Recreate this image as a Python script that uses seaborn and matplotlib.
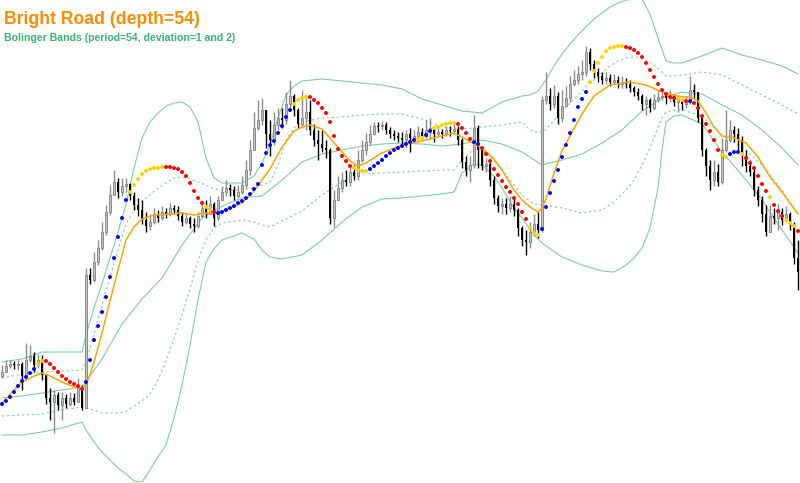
import numpy as np
import pandas as pd
import matplotlib
matplotlib.use("Agg")
import matplotlib.pyplot as plt
import seaborn as sns

# price levels in chart points (bigger number = lower on the chart, y axis is inverted)
close = [372, 366, 364, 365, 364, 376, 360, 356, 365, 360,
         375, 398, 402, 395, 405, 398, 404, 398, 402, 388,
         408, 275, 280, 262, 248, 232, 212, 195, 182, 192,
         186, 184, 196, 205, 210, 220, 226, 222, 214, 218,
         212, 214, 208, 210, 216, 222, 218, 224, 226, 216,
         208, 214, 204, 218, 200, 192, 188, 190, 196, 192,
         185, 170, 150, 128, 120, 110, 134, 140, 125, 118,
         120, 104, 96, 110, 124, 118, 112, 130, 140, 144,
         148, 150, 218, 200, 188, 180, 182, 172, 176, 160,
         150, 142, 134, 126, 126, 125, 130, 134, 136, 138,
         140, 134, 138, 136, 132, 136, 130, 128, 134, 132,
         134, 130, 131, 129, 140, 162, 170, 165, 128, 150,
         166, 164, 180, 198, 206, 204, 208, 204, 210, 228,
         240, 242, 232, 224, 230, 100, 96, 104, 96, 118,
         106, 98, 84, 80, 74, 72, 52, 64, 72, 76,
         80, 78, 82, 80, 84, 82, 84, 88, 92, 96,
         104, 100, 108, 100, 97, 96, 98, 96, 102, 100,
         104, 102, 90, 92, 118, 150, 166, 180, 172, 182,
         150, 140, 130, 134, 140, 156, 166, 172, 190, 200,
         214, 232, 216, 218, 212, 220, 214, 224, 258, 272]

high = [365, 360, 360, 361, 360, 362, 343, 345, 352, 354,
        355, 374, 388, 390, 392, 392, 394, 392, 393, 378,
        385, 268, 268, 252, 240, 222, 205, 185, 170, 178,
        178, 178, 183, 192, 198, 200, 212, 214, 208, 210,
        206, 208, 203, 205, 206, 212, 214, 216, 218, 212,
        200, 200, 196, 202, 196, 186, 180, 184, 186, 185,
        176, 160, 140, 112, 100, 98, 110, 120, 112, 108,
        108, 92, 80, 94, 108, 90, 96, 100, 124, 130,
        130, 140, 148, 190, 176, 172, 170, 166, 165, 150,
        140, 133, 125, 122, 122, 121, 122, 127, 130, 132,
        132, 130, 128, 130, 126, 128, 120, 118, 126, 128,
        129, 126, 126, 124, 126, 138, 156, 156, 115, 125,
        158, 158, 162, 176, 195, 198, 198, 196, 198, 208,
        226, 230, 222, 214, 212, 96, 72, 88, 85, 92,
        90, 86, 76, 70, 66, 60, 46, 48, 60, 68,
        72, 72, 74, 74, 76, 76, 78, 80, 86, 88,
        94, 96, 98, 94, 90, 90, 92, 90, 94, 95,
        98, 96, 76, 84, 92, 118, 148, 160, 160, 164,
        138, 110, 120, 126, 128, 136, 150, 160, 168, 186,
        196, 205, 205, 208, 204, 208, 206, 212, 222, 240]

low = [378, 372, 368, 369, 370, 390, 378, 362, 372, 368,
       380, 404, 420, 433, 410, 420, 408, 406, 405, 402,
       410, 408, 284, 282, 265, 250, 235, 215, 195, 198,
       196, 192, 200, 210, 216, 224, 232, 230, 224, 222,
       220, 218, 216, 214, 220, 226, 224, 228, 232, 228,
       218, 218, 214, 226, 220, 200, 196, 196, 200, 198,
       194, 188, 175, 150, 130, 125, 148, 156, 145, 130,
       128, 124, 110, 116, 128, 128, 130, 135, 146, 160,
       152, 158, 224, 227, 196, 192, 186, 186, 180, 180,
       162, 155, 145, 135, 132, 130, 134, 138, 140, 142,
       145, 148, 152, 142, 140, 140, 138, 138, 142, 136,
       138, 136, 136, 134, 145, 168, 176, 182, 168, 168,
       170, 172, 186, 204, 212, 214, 214, 212, 216, 236,
       246, 255, 248, 236, 238, 232, 104, 110, 108, 124,
       122, 106, 102, 86, 84, 80, 76, 70, 78, 82,
       84, 84, 86, 84, 88, 88, 88, 92, 96, 100,
       110, 115, 112, 110, 102, 100, 104, 102, 106, 112,
       110, 108, 104, 98, 122, 156, 176, 190, 186, 186,
       184, 152, 142, 142, 150, 166, 172, 176, 196, 206,
       222, 236, 226, 224, 230, 225, 222, 230, 264, 290]

# Bright Road line, one value per bar
road = [404, 401, 397, 392, 386, 381, 377, 373, 369, 364,
        361, 361, 364, 368, 372, 376, 379, 382, 384, 386,
        389, 382, 360, 340, 326, 312, 297, 277, 258, 237,
        218, 200, 192, 185, 179, 174, 171, 169, 168, 168,
        167, 167, 167, 168, 169, 172, 176, 183, 191, 198,
        203, 207, 209, 212, 213, 212, 210, 208, 206, 203,
        201, 198, 194, 189, 184, 165, 153, 145, 141, 133,
        126, 117, 110, 104, 100, 98, 97, 97, 100, 103,
        108, 113, 122, 136, 149, 156, 161, 166, 168, 170,
        171, 171, 169, 166, 163, 160, 156, 153, 150, 148,
        146, 144, 142, 140, 139, 138, 135, 131, 128, 127,
        125, 124, 123, 123, 124, 128, 133, 139, 142, 144,
        148, 154, 161, 169, 175, 181, 187, 192, 198, 204,
        212, 219, 228, 233, 235, 229, 207, 193, 181, 170,
        157, 145, 133, 120, 107, 99, 92, 82, 71, 63,
        57, 51, 48, 47, 46, 46, 47, 48, 50, 53,
        57, 63, 70, 77, 84, 90, 94, 97, 98, 99,
        100, 101, 101, 103, 108, 116, 124, 131, 140, 150,
        155, 157, 154, 152, 152, 154, 158, 163, 168, 176,
        184, 191, 197, 205, 211, 216, 220, 223, 226, 231]

# trend state of the Bright Road dots, as runs of (state, bars)
road_runs = [("up", 9), ("flat", 2), ("down", 10), ("up", 11), ("flat", 9),
             ("down", 10), ("flat", 2), ("down", 1), ("up", 19), ("flat", 4),
             ("down", 11), ("flat", 4), ("up", 12), ("flat", 2), ("up", 2),
             ("flat", 6), ("down", 4), ("up", 2), ("down", 12), ("flat", 3),
             ("up", 12), ("flat", 9), ("down", 13), ("flat", 2), ("down", 1),
             ("up", 1), ("down", 7), ("flat", 2), ("up", 3), ("flat", 1),
             ("down", 6), ("flat", 1), ("down", 3), ("flat", 3), ("down", 1)]

# orange smoothed line, read at these bars
orange_bars = [0, 3, 5, 8, 10, 12, 15, 18, 20, 21, 22, 23, 25, 27, 29, 31, 33, 35, 38, 42,
               45, 48, 51, 54, 57, 60, 63, 65, 67, 70, 73, 75, 77, 80, 82, 85, 87, 89, 91, 95,
               100, 105, 110, 113, 115, 118, 120, 123, 125, 128, 130, 132, 134, 135, 136,
               138, 140, 142, 145, 148, 152, 157, 161, 165, 170, 172, 174, 176, 178, 180,
               183, 186, 189, 192, 195, 199]
orange_line = [403, 390, 382, 376, 373, 376, 382, 387, 388, 385, 375, 362, 333, 301, 270,
               240, 227, 219, 215, 214, 213, 215, 213, 213, 208, 203, 191, 180, 169, 147,
               131, 127, 125, 129, 138, 152, 161, 166, 163, 153, 145, 141, 136, 133, 137,
               144, 148, 159, 170, 190, 200, 207, 212, 208, 199, 173, 151, 136, 114, 96,
               85, 82, 85, 92, 97, 97, 101, 113, 127, 136, 138, 143, 157, 177, 192, 214]

# Bollinger bands (54, 1 and 2 deviations)
upper_bars = [0, 5, 10, 15, 20, 21, 23, 25, 27, 29, 31, 33, 35, 37, 39, 41, 43, 45, 47, 49,
              51, 53, 55, 60, 63, 65, 67, 69, 71, 73, 75, 80, 85, 90, 95, 100, 105, 110,
              115, 120, 125, 130, 132, 134, 136, 138, 140, 142, 144, 146, 148, 150, 152,
              154, 156, 158, 160, 162, 164, 166, 168, 170, 175, 180, 185, 190, 195, 199]
band_upper2 = [362, 359, 352, 352, 352, 335, 308, 284, 258, 232, 204, 168, 138, 122, 113,
               106, 103, 102, 107, 122, 158, 178, 183, 183, 176, 163, 145, 118, 95, 86, 81,
               79, 81, 83, 85, 89, 99, 105, 111, 113, 102, 96, 95, 91, 80, 66, 54, 44, 35,
               27, 19, 13, 7, 3, 0, -1, -1, 14, 38, 61, 63, 63, 56, 48, 55, 60, 66, 74]
band_upper1 = [378, 374, 372, 371, 370, 362, 334, 305, 277, 250, 224, 210, 201, 195, 188,
               183, 178, 177, 179, 182, 185, 189, 190, 190, 188, 185, 182, 165, 140, 128,
               122, 118, 117, 115, 114, 114, 119, 127, 129, 127, 125, 122, 130, 133, 130,
               120, 111, 103, 95, 87, 80, 73, 66, 61, 58, 57, 58, 62, 68, 76, 76, 75, 72,
               75, 85, 95, 105, 114]
middle_bars = list(range(0, 200, 5)) + [199]
band_middle = [398, 396, 393, 390, 387, 359, 324, 299, 278, 245,
               218, 206, 198, 196, 180, 162, 154, 150, 146, 144,
               143, 144, 146, 144, 140, 144, 152, 165, 160, 154,
               143, 130, 111, 98, 92, 94, 105, 115, 130, 148, 165]
lower_bars = [0, 5, 10, 15, 20, 21, 23, 25, 27, 29, 31, 33, 35, 37, 39, 41, 43, 45, 47, 49,
              51, 53, 55, 60, 63, 65, 67, 70, 75, 80, 85, 90, 95, 100, 105, 110, 113, 115,
              118, 120, 123, 125, 128, 130, 133, 135, 140, 145, 150, 153, 156, 158, 160,
              162, 164, 165, 166, 168, 170, 175, 180, 185, 190, 195, 199]
band_lower1 = [416, 415, 414, 410, 407, 408, 410, 413, 413, 413, 411, 406, 401, 394, 380,
               361, 339, 315, 289, 260, 240, 228, 223, 220, 222, 225, 227, 221, 211, 195,
               182, 174, 173, 172, 171, 170, 170, 160, 149, 150, 161, 170, 185, 195, 204,
               205, 208, 213, 210, 202, 190, 180, 165, 148, 127, 118, 112, 110, 110, 116,
               135, 147, 165, 190, 215]
band_lower2 = [435, 435, 432, 428, 422, 430, 442, 452, 460, 468, 474, 481, 482, 470, 457,
               445, 418, 385, 345, 300, 262, 249, 240, 233, 239, 250, 257, 259, 255, 240,
               222, 207, 199, 198, 196, 194, 192, 173, 164, 165, 176, 188, 208, 218, 235,
               243, 257, 265, 271, 272, 265, 258, 248, 228, 188, 150, 122, 116, 115, 124,
               152, 175, 200, 230, 253]

BAND_COLOR = "#7fcfa4"
ROAD_COLORS = {"up": "#0000ff", "flat": "#ffd200", "down": "#ff0000"}


def draw_candles(ax, bars, o, c, h, l):
    bull = c < o
    # wicks
    ax.vlines(bars[bull], h[bull], l[bull], color="#8c8c8c", lw=1.0, zorder=2)
    ax.vlines(bars[~bull], h[~bull], l[~bull], color="black", lw=1.0, zorder=2)
    body_top = np.minimum(o, c)
    body_h = np.maximum(np.abs(o - c), 1.0)
    ax.bar(bars[bull], body_h[bull], bottom=body_top[bull], width=0.7,
           color="#c4c4c4", edgecolor="#808080", linewidth=0.6, zorder=3)
    ax.bar(bars[~bull], body_h[~bull], bottom=body_top[~bull], width=0.7,
           color="black", linewidth=0, zorder=3)


if __name__ == "__main__":
    sns.set_theme(style="white")
    plt.rcParams["font.family"] = ["Liberation Sans", "DejaVu Sans"]

    bars = np.arange(len(close))
    c = np.array(close, dtype=float)
    o = np.concatenate([[376.0], c[:-1]])
    h = np.minimum(np.array(high, dtype=float), np.minimum(o, c))
    l = np.maximum(np.array(low, dtype=float), np.maximum(o, c))

    states = [s for s, n in road_runs for _ in range(n)]
    df_road = pd.DataFrame({"bar": bars, "level": road, "state": states})

    fig = plt.figure(figsize=(8, 4.83), dpi=100)
    ax = fig.add_axes([0, 0, 1, 1])

    solid_bands = [(upper_bars, band_upper2), (middle_bars, band_middle),
                   (lower_bars, band_lower2)]
    dotted_bands = [(upper_bars, band_upper1), (lower_bars, band_lower1)]
    for xs, ys in solid_bands:
        sns.lineplot(x=xs, y=ys, ax=ax, color=BAND_COLOR, lw=0.8, zorder=1)
    for xs, ys in dotted_bands:
        sns.lineplot(x=xs, y=ys, ax=ax, color=BAND_COLOR, lw=0.8,
                     linestyle=(0, (2, 2.5)), zorder=1)

    draw_candles(ax, bars, o, c, h, l)

    sns.lineplot(x=orange_bars, y=orange_line, ax=ax, color="#ffa500",
                 lw=1.1, zorder=4)
    sns.scatterplot(data=df_road, x="bar", y="level", hue="state",
                    palette=ROAD_COLORS, s=8, linewidth=0, legend=False,
                    ax=ax, zorder=5)

    ax.set_xlim(-0.5, len(close) - 0.5)
    ax.set_ylim(483, 0)
    ax.axis("off")

    fig.text(4 / 800, 1 - 20 / 483, "Bright Road (depth=54)", color="#ff8c00",
             fontsize=12.7, fontweight="bold", va="center", ha="left")
    fig.text(4 / 800, 1 - 38 / 483, "Bolinger Bands (period=54, deviation=1 and 2)",
             color="#3cb371", fontsize=7.6, fontweight="bold", va="center", ha="left")

    fig.savefig("out.png", dpi=100, facecolor="white")
